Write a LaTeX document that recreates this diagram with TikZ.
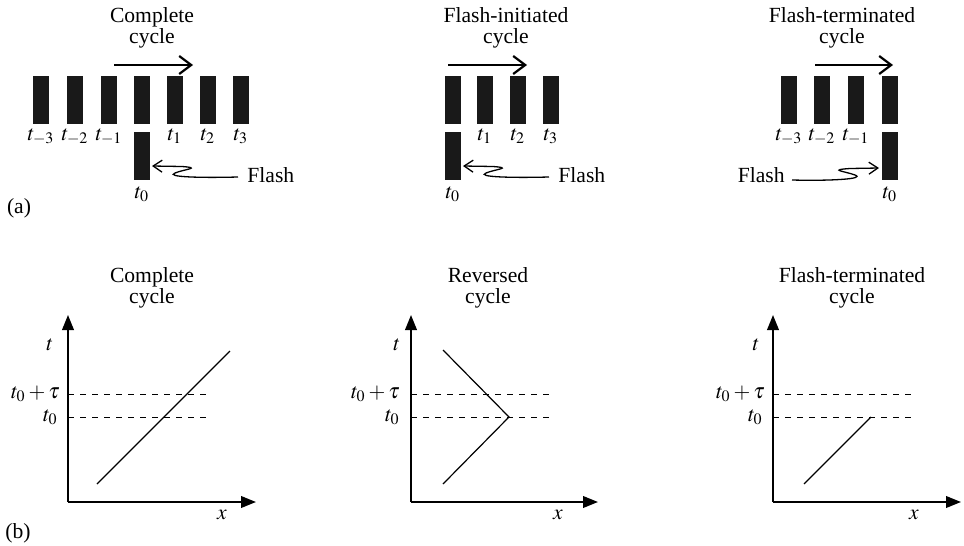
\documentclass[tikz,border=0pt]{standalone}
\usepackage{mathptmx}
\usepackage{fontspec}
\setmainfont{Liberation Serif}
\usetikzlibrary{arrows.meta}
\begin{document}
\begin{tikzpicture}[x=0.5pt,y=-0.5pt,
  every node/.style={font=\fontsize{10.8}{10.8}\selectfont, inner sep=0pt},
  bar/.style={fill=black!90, minimum width=8pt, minimum height=24pt, draw=none},
  ttl/.style={align=center},
  cyc/.style={line width=1.1pt, -{Straight Barb[length=6pt,width=9pt,line width=1.1pt]}},
  fl/.style={line width=0.65pt, -{Straight Barb[length=4.5pt,width=6pt,line width=0.65pt]}},
  axis/.style={line width=1pt, -{Triangle[length=7.5pt,width=5.8pt]}},
  dsh/.style={line width=0.5pt, dash pattern=on 3pt off 3pt},
  curve/.style={line width=0.6pt}
]
\useasboundingbox (0,0) rectangle (964,546);

% ---------------- (a) Complete cycle
\node[ttl] (ta1) at (152,28) {Complete\\cycle};
\foreach \x/\n in {41/a,75/b,109/c,142/d,175/e,208/f,241/g}{
  \node[bar] (p1\n) at (\x,100) {};
}
\foreach \n/\l in {a/{-3},b/{-2},c/{-1},e/{1},f/{2},g/{3}}{
  \node[anchor=north] at ([yshift=-2pt]p1\n.south) {$t_{\l}$};
}
\node[bar] (p1z) at (142,156) {};
\node[anchor=north] (p1zl) at ([yshift=-3pt]p1z.south) {$t_0$};
\coordinate (c1s) at (114,65); \coordinate (c1e) at (193,65);
\draw[cyc] (c1s) -- (c1e);
\node[anchor=west] (f1) at (247,175) {Flash};
\coordinate (f1s) at (238,177);
\coordinate (f1t) at (152,166);
\draw[fl] (f1s) .. controls (200,178) and (165,177) .. (175,173)
   .. controls (185,169) and (202,168) .. (182,166.5) -- (f1t);
\node (la) at (19,208) {(a)};

% ---------------- (a) Flash-initiated
\node[ttl] (ta2) at (506,28) {Flash-initiated\\cycle};
\foreach \x/\n in {453/a,485/b,518/c,551/d}{
  \node[bar] (p2\n) at (\x,100) {};
}
\foreach \n/\l in {b/1,c/2,d/3}{
  \node[anchor=north] at ([yshift=-2pt]p2\n.south) {$t_{\l}$};
}
\node[bar] (p2z) at (453,156) {};
\node[anchor=north] (p2zl) at ([yshift=-3pt]p2z.south) {$t_0$};
\coordinate (c2s) at (448,65); \coordinate (c2e) at (527,65);
\draw[cyc] (c2s) -- (c2e);
\node[anchor=west] (f2) at (558,175) {Flash};
\coordinate (f2s) at (549,177);
\coordinate (f2t) at (463,166);
\draw[fl] (f2s) .. controls (511,178) and (476,177) .. (486,173)
   .. controls (496,169) and (513,168) .. (493,166.5) -- (f2t);

% ---------------- (a) Flash-terminated
\node[ttl] (ta3) at (842,28) {Flash-terminated\\cycle};
\foreach \x/\n in {789/a,822/b,856/c,890/d}{
  \node[bar] (p3\n) at (\x,100) {};
}
\foreach \n/\l in {a/{-3},b/{-2},c/{-1}}{
  \node[anchor=north] at ([yshift=-2pt]p3\n.south) {$t_{\l}$};
}
\node[bar] (p3z) at (890,156) {};
\node[anchor=north] (p3zl) at ([yshift=-3pt]p3z.south) {$t_0$};
\coordinate (c3s) at (815,65); \coordinate (c3e) at (893,65);
\draw[cyc] (c3s) -- (c3e);
\node[anchor=east] (f3) at (785,175) {Flash};
\coordinate (f3s) at (792,180);
\coordinate (f3t) at (879,168);
\draw[fl] (f3s) .. controls (830,181) and (866,179) .. (855,175)
   .. controls (844,171) and (828,170) .. (850,168.5) -- (f3t);

% ---------------- (b) plot 1
\node[ttl] (tb1) at (152,288) {Complete\\cycle};
\coordinate (o1) at (68,502);
\coordinate (y1) at (68,315);
\coordinate (x1) at (256,502);
\draw[axis] (o1) -- (y1);
\draw[axis] (o1) -- (x1);
\coordinate (d1a) at (68,394); \coordinate (d1b) at (208,394);
\coordinate (d1c) at (68,417); \coordinate (d1d) at (208,417);
\draw[dsh] (d1a) -- (d1b);
\draw[dsh] (d1c) -- (d1d);
\coordinate (l1a) at (97,484); \coordinate (l1b) at (230,351);
\draw[curve] (l1a) -- (l1b);
\node (t1) at (50,345) {$t$};
\node[anchor=east] (tt1) at (60,394) {$t_0+\tau$};
\node[anchor=east] (tz1) at (58,417) {$t_0$};
\node (xl1) at (222,515) {$x$};
\node (lb) at (18,533) {(b)};

% ---------------- (b) plot 2
\node[ttl] (tb2) at (488,288) {Reversed\\cycle};
\coordinate (o2) at (411,502);
\coordinate (y2) at (411,315);
\coordinate (x2) at (598,502);
\draw[axis] (o2) -- (y2);
\draw[axis] (o2) -- (x2);
\coordinate (d2a) at (411,394); \coordinate (d2b) at (552,394);
\coordinate (d2c) at (411,417); \coordinate (d2d) at (552,417);
\draw[dsh] (d2a) -- (d2b);
\draw[dsh] (d2c) -- (d2d);
\coordinate (l2a) at (443,350); \coordinate (l2b) at (509,417); \coordinate (l2c) at (443,484);
\draw[curve] (l2a) -- (l2b) -- (l2c);
\node (t2) at (397,345) {$t$};
\node[anchor=east] (tt2) at (400,394) {$t_0+\tau$};
\node[anchor=east] (tz2) at (400,417) {$t_0$};
\node (xl2) at (558,515) {$x$};

% ---------------- (b) plot 3
\node[ttl] (tb3) at (852,288) {Flash-terminated\\cycle};
\coordinate (o3) at (773,502);
\coordinate (y3) at (773,315);
\coordinate (x3) at (961,502);
\draw[axis] (o3) -- (y3);
\draw[axis] (o3) -- (x3);
\coordinate (d3a) at (773,394); \coordinate (d3b) at (913,394);
\coordinate (d3c) at (773,417); \coordinate (d3d) at (913,417);
\draw[dsh] (d3a) -- (d3b);
\draw[dsh] (d3c) -- (d3d);
\coordinate (l3a) at (804,484); \coordinate (l3b) at (871,417);
\draw[curve] (l3a) -- (l3b);
\node (t3) at (756,345) {$t$};
\node[anchor=east] (tt3) at (765,394) {$t_0+\tau$};
\node[anchor=east] (tz3) at (763,417) {$t_0$};
\node (xl3) at (914,515) {$x$};
\end{tikzpicture}
\end{document}
